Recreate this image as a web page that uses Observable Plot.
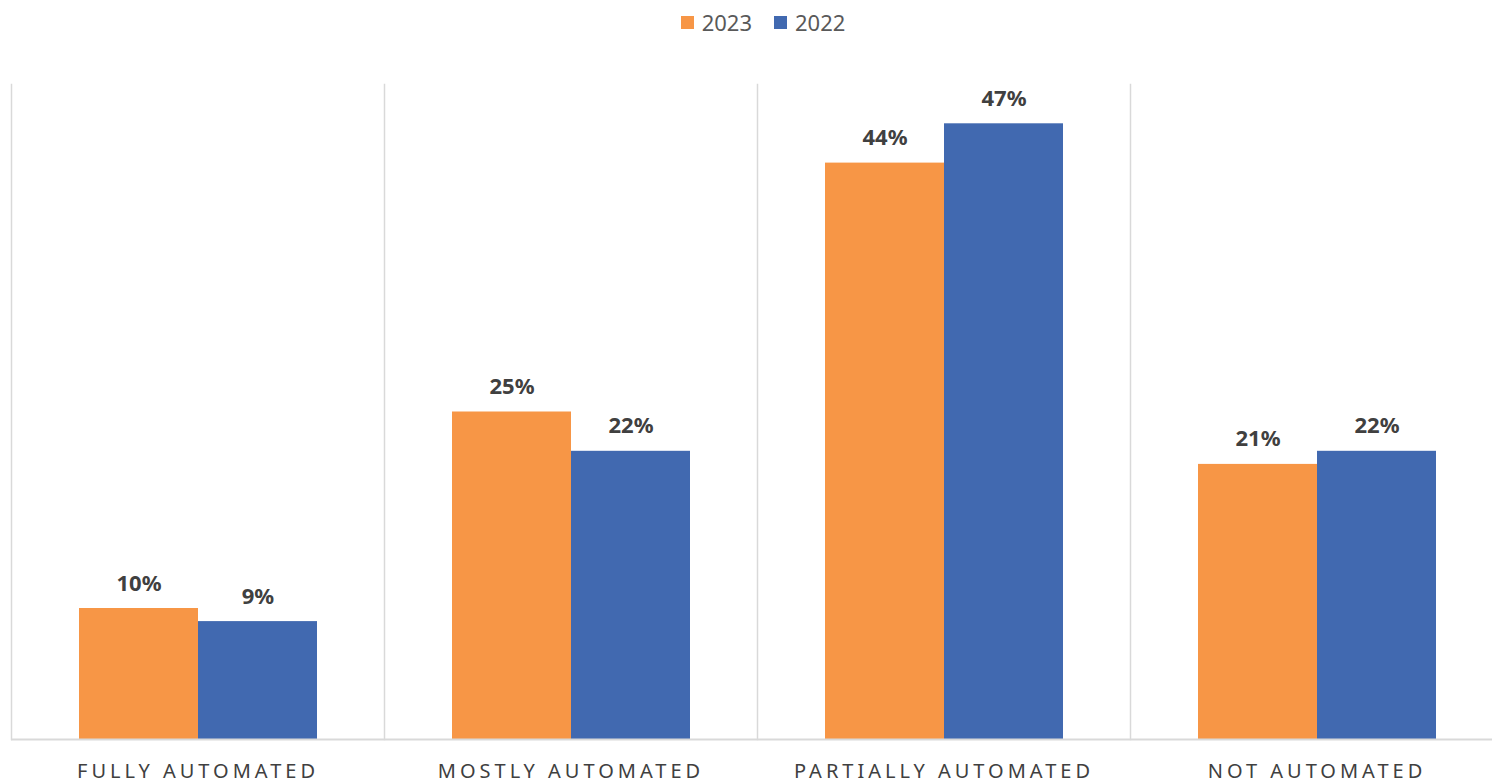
<!DOCTYPE html>
<html>
<head>
<meta charset="utf-8">
<script src="https://cdn.jsdelivr.net/npm/d3@7"></script>
<script src="https://cdn.jsdelivr.net/npm/@observablehq/plot@0.6"></script>
<style>
  html, body { margin: 0; padding: 0; background: #fff; overflow: hidden; width: 1492px; height: 783px; }
  #legend { height: 44px; display: flex; justify-content: center; align-items: center; gap: 22px; font-family: "Noto Sans", sans-serif; font-size: 22px; color: #595959; padding-left: 34px; box-sizing: border-box; }
  #legend .item { display: flex; align-items: center; gap: 8px; }
  #legend .sw { width: 13px; height: 13px; display: inline-block; }
  #chart svg { max-width: none !important; }
  #chart [aria-label="fx-axis tick label"] text { letter-spacing: 4px; }
</style>
</head>
<body>
<div id="legend"></div>
<div id="chart"></div>
<script>
const categories = ["FULLY AUTOMATED", "MOSTLY AUTOMATED", "PARTIALLY AUTOMATED", "NOT AUTOMATED"];
const years = ["2023", "2022"];
const values2023 = [10, 25, 44, 21];
const values2022 = [9, 22, 47, 22];
const colors = ["#F79646", "#4169B0"];

const data = [];
categories.forEach((c, i) => {
  data.push({category: c, year: "2023", value: values2023[i]});
  data.push({category: c, year: "2022", value: values2022[i]});
});

const legend = document.getElementById("legend");
years.forEach((y, i) => {
  const it = document.createElement("div");
  it.className = "item";
  it.innerHTML = `<span class="sw" style="background:${colors[i]}"></span><span>${y}</span>`;
  legend.appendChild(it);
});

const chart = Plot.plot({
  width: 1503,
  height: 739,
  marginLeft: 11,
  marginRight: 0,
  marginTop: 40,
  marginBottom: 44,
  style: {fontFamily: "Noto Sans, sans-serif", background: "transparent", maxWidth: "none"},
  fx: {domain: categories, padding: 0, label: null},
  x: {domain: years, paddingInner: 0, paddingOuter: 0.563, axis: null},
  y: {domain: [0, 50], axis: null},
  color: {domain: years, range: colors},
  marks: [
    Plot.frame({anchor: "left", stroke: "#d9d9d9", strokeWidth: 1.5}),
    Plot.barY(data, {fx: "category", x: "year", y: "value", fill: "year"}),
    Plot.ruleY([0], {stroke: "#d9d9d9", strokeWidth: 2}),
    Plot.text(data, {fx: "category", x: "year", y: "value", text: d => d.value + "%", dy: -18, lineAnchor: "bottom", fontWeight: "bold", fontSize: 22, fill: "#404040"}),
    Plot.axisFx({anchor: "bottom", tickSize: 0, tickPadding: 24, fontSize: 20, fill: "#404040", label: null})
  ]
});
document.getElementById("chart").appendChild(chart);
</script>
</body>
</html>
